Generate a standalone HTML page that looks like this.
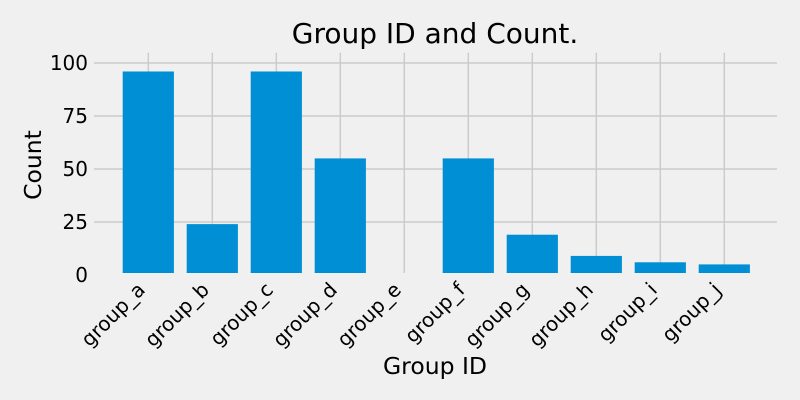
<!DOCTYPE html>
<html><head><meta charset="utf-8"><style>
html,body{margin:0;padding:0;background:#f0f0f0;}
svg{display:block;font-family:"DejaVu Sans","Liberation Sans",sans-serif;}
</style></head><body>
<svg id="chart" width="800" height="400" viewBox="0 0 800 400">
<rect width="800" height="400" fill="#f0f0f0"/>
<g id="grid"></g>
<g id="bars"></g>
<g id="ticks"></g>
<text x="435" y="43" font-size="28" text-anchor="middle" fill="#000">Group ID and Count.</text>
<text x="435" y="374" font-size="23.5" text-anchor="middle" fill="#000">Group ID</text>
<text transform="translate(41,165) rotate(-90)" font-size="23.5" text-anchor="middle" fill="#000">Count</text>
</svg>
<script>
const categories = ["group_a","group_b","group_c","group_d","group_e","group_f","group_g","group_h","group_i","group_j"];
const counts = [96, 24, 96, 55, 0, 55, 19, 9, 6, 5];
const yTicks = [0, 25, 50, 75, 100];

const NS = "http://www.w3.org/2000/svg";
const x = i => 148.3 + 64 * i;
const y = v => 275 - 2.12 * v;
const grid = document.getElementById('grid');
const bars = document.getElementById('bars');
const ticks = document.getElementById('ticks');
function mk(tag, attrs){const e=document.createElementNS(NS,tag);for(const k in attrs)e.setAttribute(k,attrs[k]);return e;}

yTicks.forEach(t => {
  if (t > 0) {
    const l = mk('line',{x1:94,x2:777,y1:y(t),y2:y(t),stroke:'#cbcbcb','stroke-width':1.5});
    
    
    grid.appendChild(l);
  }
  const tx = mk('text',{x:88,y:y(t)+7,'font-size':20,'text-anchor':'end',fill:'#000'});
  tx.textContent = t;
  
  
  ticks.appendChild(tx);
});
categories.forEach((c, i) => {
  const l = mk('line',{x1:x(i),x2:x(i),y1:52.7,y2:273,stroke:'#cbcbcb','stroke-width':1.5});
  
  
  grid.appendChild(l);
  const top = y(counts[i]);
  const h = Math.max(0, 273 - top);
  const r = mk('rect',{x:x(i)-25.6,y:273-h,width:51.2,height:h,fill:'#008fd5'});
  
  
  bars.appendChild(r);
  const tx = mk('text',{'font-size':20,'text-anchor':'end',fill:'#000',transform:`translate(${x(i)-2},${291}) rotate(-45)`});
  tx.textContent = c;
  
  
  ticks.appendChild(tx);
});
</script>
</body></html>
